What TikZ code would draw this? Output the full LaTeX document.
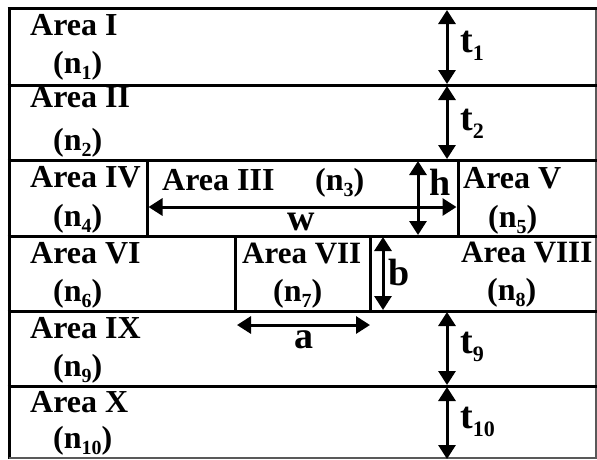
\documentclass[tikz,border=0pt]{standalone}
\usepackage{fontspec}
\setmainfont{Liberation Serif}
\usetikzlibrary{arrows.meta}
\newcommand\nlab[1]{(n\raisebox{-6pt}{\fontsize{20}{20}\selectfont #1})}
\newcommand\tlab[1]{t\raisebox{-8pt}{\fontsize{22}{22}\selectfont #1}}
\begin{document}
\begin{tikzpicture}[x=1pt,y=-1pt,
  lbl/.style={anchor=base west, inner sep=0pt, font=\fontsize{32}{34}\selectfont\bfseries},
  narrowlbl/.style={lbl, font=\fontsize{31}{33}\selectfont\bfseries},
  mlbl/.style={anchor=base west, inner sep=0pt, font=\fontsize{38}{40}\selectfont\bfseries},
  wall/.style={line width=3pt},
  thinwall/.style={line width=1.5pt, black!65},
  dimarrow/.style={line width=3pt, {Triangle[width=17pt,length=14pt]}-{Triangle[width=17pt,length=14pt]}}]
\fill[white] (0,0) rectangle (597,459);
\useasboundingbox (0,0) rectangle (597,459);
% frame
\draw[wall] (9,7) -- (9,459);
\draw[thinwall] (596,8) -- (596,459);
\draw[thinwall] (9,458) -- (596,458);
\foreach \y in {8,85,160,236,311,386} {\draw[wall] (7.5,\y) -- (596.5,\y);}
% inner walls
\draw[wall] (147,160) -- (147,236);
\draw[wall] (458,160) -- (458,236);
\draw[wall] (235,236) -- (235,311);
\draw[wall] (370,236) -- (370,311);
% arrow end points
\coordinate (t1a) at (447,10);  \coordinate (t1b) at (447,84);
\coordinate (t2a) at (447,86);  \coordinate (t2b) at (447,159);
\coordinate (ha) at (418,161);  \coordinate (hb) at (418,235);
\coordinate (wa) at (148.5,207); \coordinate (wb) at (456.5,207);
\coordinate (ba) at (383,237);  \coordinate (bb) at (383,310);
\coordinate (aa) at (237,325);  \coordinate (ab) at (370,325);
\coordinate (t9a) at (447,312); \coordinate (t9b) at (447,385);
\coordinate (t10a) at (447,387); \coordinate (t10b) at (447,459);
\draw[dimarrow] (t1a) -- (t1b);
\draw[dimarrow] (t2a) -- (t2b);
\draw[dimarrow] (ha) -- (hb);
\draw[dimarrow] (wa) -- (wb);
\draw[dimarrow] (ba) -- (bb);
\draw[dimarrow] (aa) -- (ab);
\draw[dimarrow] (t9a) -- (t9b);
\draw[dimarrow] (t10a) -- (t10b);
% area labels
\node[lbl] (A1) at (30,35) {Area I};
\node[lbl] (N1) at (53,73) {\nlab{1}};
\node[lbl] (A2) at (30,107) {Area II};
\node[lbl] (N2) at (53,150) {\nlab{2}};
\node[lbl] (A4) at (30,187) {Area IV};
\node[lbl] (N4) at (53,226) {\nlab{4}};
\node[lbl] (A3) at (162,190) {Area III};
\node[lbl] (N3) at (315,190) {\nlab{3}};
\node[lbl] (A5) at (463,188) {Area V};
\node[lbl] (N5) at (488,227) {\nlab{5}};
\node[lbl] (A6) at (30,263) {Area VI};
\node[lbl] (N6) at (53,301) {\nlab{6}};
\node[narrowlbl] (A7) at (242,263) {Area VII};
\node[lbl] (N7) at (273,301) {\nlab{7}};
\node[narrowlbl] (A8) at (461,262) {Area VIII};
\node[lbl] (N8) at (487,300) {\nlab{8}};
\node[lbl] (A9) at (30,338) {Area IX};
\node[lbl] (N9) at (53,376) {\nlab{9}};
\node[lbl] (A10) at (30,412) {Area X};
\node[lbl] (N10) at (53,448) {\nlab{10}};
% dimension labels
\node[mlbl] (T1) at (460,52) {\tlab{1}};
\node[mlbl] (T2) at (460,130) {\tlab{2}};
\node[mlbl] (H) at (429,195) {h};
\node[mlbl] (W) at (287,230) {w};
\node[mlbl] (B) at (388,285) {b};
\node[mlbl] (Aa) at (294,348) {a};
\node[mlbl] (T9) at (460,353) {\tlab{9}};
\node[mlbl] (T10) at (460,428) {\tlab{10}};
\end{tikzpicture}
\end{document}
